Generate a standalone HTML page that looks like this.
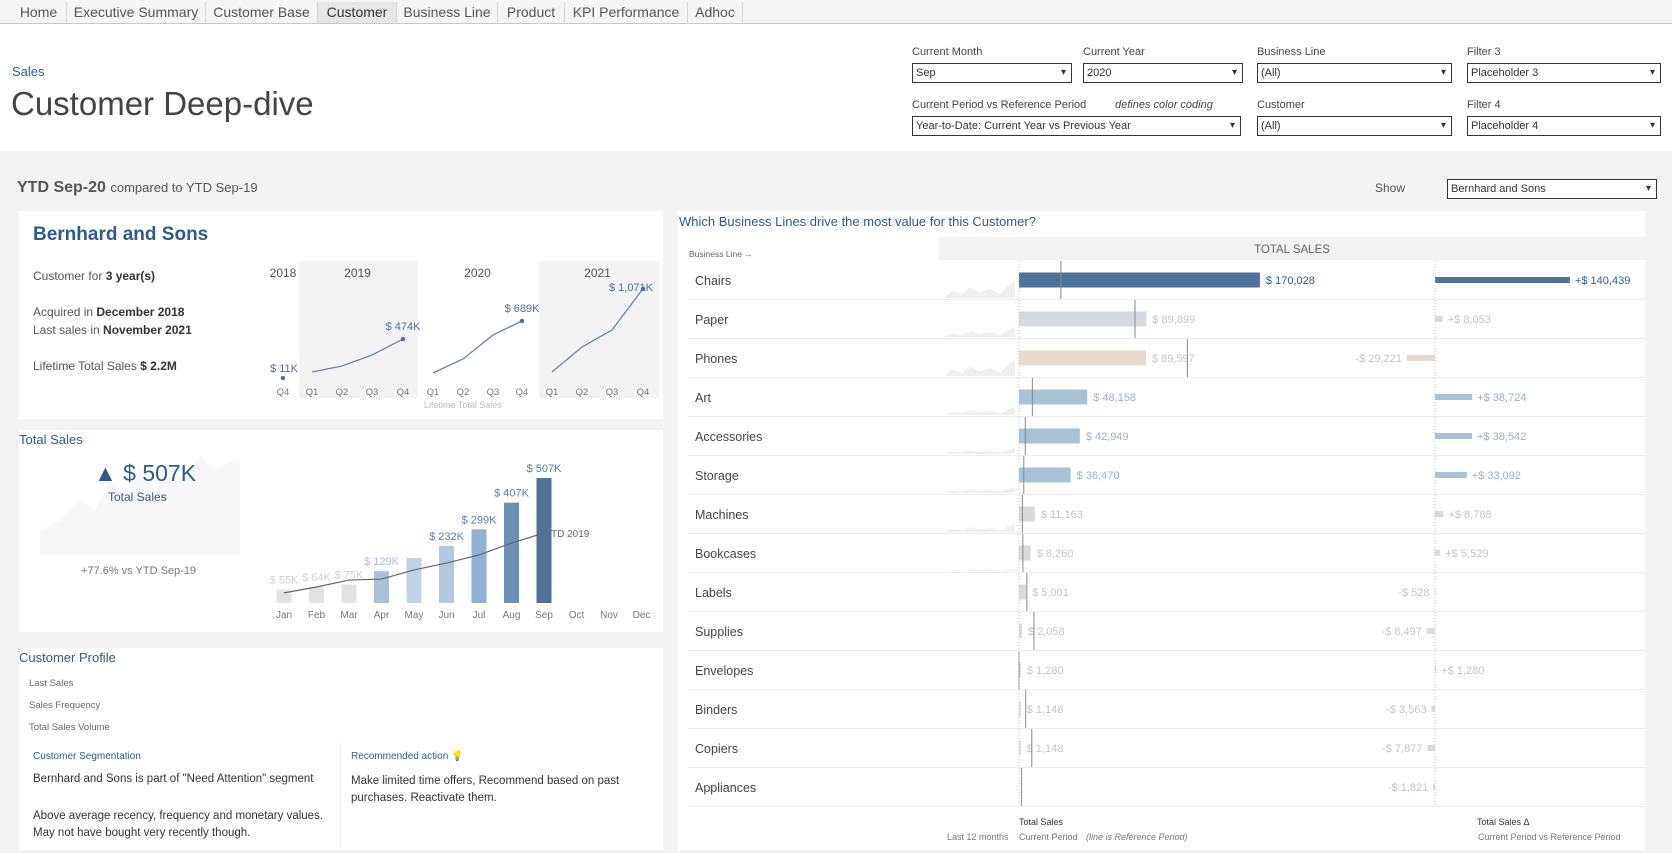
<!DOCTYPE html>
<html><head><meta charset="utf-8">
<style>
*{box-sizing:border-box;margin:0;padding:0}
body{width:1672px;height:853px;overflow:hidden;background:#f3f3f3;font-family:"Liberation Sans",sans-serif;position:relative;color:#555}
.abs{position:absolute;white-space:nowrap;z-index:2}
.tabs{position:absolute;left:0;top:0;width:1672px;height:24px;background:#f5f5f5;border-bottom:1px solid #c8c8c8}
.tab{position:absolute;top:2px;height:21px;font-size:14px;color:#555;text-align:center;line-height:21px;border-right:1px solid #d4d4d4}
.tab.active{background:#e6e6e6;color:#333}
.header{position:absolute;left:0;top:24px;width:1672px;height:127px;background:#fff}
.flabel{position:absolute;font-size:11px;color:#444}
.dd{position:absolute;height:20px;border:1px solid #333;background:#fff;font-size:11px;color:#333;line-height:18px;padding-left:3px}
.dd:after{content:"▾";position:absolute;right:5px;top:0;font-size:10px}
.panel{position:absolute;background:#fff}
.blue{color:#2e5b87}
#chart{z-index:1}
</style></head><body>
<div class="tabs">
<div class="tab" style="left:11px;width:56px">Home</div>
<div class="tab" style="left:67px;width:139px">Executive Summary</div>
<div class="tab" style="left:206px;width:112px">Customer Base</div>
<div class="tab active" style="left:318px;width:79px">Customer</div>
<div class="tab" style="left:397px;width:101px">Business Line</div>
<div class="tab" style="left:498px;width:67px">Product</div>
<div class="tab" style="left:565px;width:123px">KPI Performance</div>
<div class="tab" style="left:688px;width:55px">Adhoc</div>
</div>
<div class="header"></div>
<div class="abs blue" style="left:12px;top:64px;font-size:13px">Sales</div>
<div class="abs" style="left:11px;top:85px;font-size:33px;color:#444">Customer Deep-dive</div>

<div class="flabel" style="left:912px;top:46px">Current Month</div>
<div class="dd" style="left:912px;top:63px;width:160px">Sep</div>
<div class="flabel" style="left:1083px;top:46px">Current Year</div>
<div class="dd" style="left:1083px;top:63px;width:160px">2020</div>
<div class="flabel" style="left:1257px;top:46px">Business Line</div>
<div class="dd" style="left:1257px;top:63px;width:195px">(All)</div>
<div class="flabel" style="left:1467px;top:46px">Filter 3</div>
<div class="dd" style="left:1467px;top:63px;width:194px">Placeholder 3</div>
<div class="flabel" style="left:912px;top:99px">Current Period vs Reference Period</div>
<div class="flabel" style="left:1115px;top:99px;font-style:italic">defines color coding</div>
<div class="dd" style="left:912px;top:116px;width:329px">Year-to-Date: Current Year vs Previous Year</div>
<div class="flabel" style="left:1257px;top:99px">Customer</div>
<div class="dd" style="left:1257px;top:116px;width:195px">(All)</div>
<div class="flabel" style="left:1467px;top:99px">Filter 4</div>
<div class="dd" style="left:1467px;top:116px;width:194px">Placeholder 4</div>

<div class="abs" style="left:17px;top:179px;font-size:16px;color:#555"><b>YTD Sep-20</b> <span style="font-size:13px">compared to YTD Sep-19</span></div>
<div class="abs" style="left:1375px;top:181px;font-size:12px;color:#555">Show</div>
<div class="dd" style="left:1447px;top:179px;width:210px">Bernhard and Sons</div>

<div class="panel" style="left:19px;top:211px;width:644px;height:208px"></div>
<div class="panel" style="left:19px;top:430px;width:644px;height:202px"></div>
<div class="panel" style="left:19px;top:648px;width:644px;height:202px"></div>
<div class="panel" style="left:678px;top:211px;width:967px;height:639px"></div>

<div class="abs blue" style="left:33px;top:224px;font-size:19px;font-weight:bold">Bernhard and Sons</div>
<div class="abs" style="left:33px;top:269px;font-size:12px">Customer for <b style="color:#333">3 year(s)</b></div>
<div class="abs" style="left:33px;top:305px;font-size:12px">Acquired in <b style="color:#333">December 2018</b></div>
<div class="abs" style="left:33px;top:323px;font-size:12px">Last sales in <b style="color:#333">November 2021</b></div>
<div class="abs" style="left:33px;top:359px;font-size:12px">Lifetime Total Sales <b style="color:#333">$ 2.2M</b></div>

<div class="abs blue" style="left:19px;top:432px;font-size:13px">Total Sales</div>
<div class="abs blue" style="left:94px;top:460px;font-size:23px">▲ $ 507K</div>
<div class="abs blue" style="left:108px;top:490px;font-size:12px">Total Sales</div>
<div class="abs" style="left:81px;top:565px;font-size:11px;color:#777">+77.6% vs YTD Sep-19</div>

<div class="abs blue" style="left:19px;top:650px;font-size:13px">Customer Profile</div>
<div class="abs" style="left:29px;top:678px;font-size:9.5px;color:#666">Last Sales</div>
<div class="abs" style="left:29px;top:700px;font-size:9.5px;color:#666">Sales Frequency</div>
<div class="abs" style="left:29px;top:722px;font-size:9.5px;color:#666">Total Sales Volume</div>
<div class="abs" style="left:340px;top:743px;width:1px;height:105px;background:#eee"></div>
<div class="abs blue" style="left:33px;top:751px;font-size:10px">Customer Segmentation</div>
<div class="abs blue" style="left:351px;top:751px;font-size:10px">Recommended action <span style="color:#f0c040">💡</span></div>
<div class="abs" style="left:33px;top:773px;font-size:11.5px;color:#333">Bernhard and Sons is part of "Need Attention" segment</div>
<div class="abs" style="left:33px;top:808px;font-size:11.5px;color:#333;line-height:17px">Above average recency, frequency and monetary values.<br>May not have bought very recently though.</div>
<div class="abs" style="left:351px;top:773px;font-size:11.5px;color:#333;line-height:17px">Make limited time offers, Recommend based on past<br>purchases. Reactivate them.</div>

<div class="abs blue" style="left:679px;top:214px;font-size:13px">Which Business Lines drive the most value for this Customer?</div>

<svg id="chart" class="abs" style="left:0;top:0" width="1672" height="853" font-family="Liberation Sans, sans-serif"></svg>

<script>
// ---- Lifetime quarterly (cumulative YTD, $K) ----
const ltYears = ["2018","2019","2020","2021"];
const ltQuarters = [["Q4"],["Q1","Q2","Q3","Q4"],["Q1","Q2","Q3","Q4"],["Q1","Q2","Q3","Q4"]];
const ltValues = [[11],[83,154,285,474],[71,238,523,689],[83,380,582,1071]];
const ltLabels = ["$ 11K","$ 474K","$ 689K","$ 1,071K"];

// ---- Monthly total sales YTD ($K) ----
const months = ["Jan","Feb","Mar","Apr","May","Jun","Jul","Aug","Sep","Oct","Nov","Dec"];
const monthSales = [55,64,75,129,183,232,299,407,507];
const monthLabels = ["$ 55K","$ 64K","$ 75K","$ 129K","","$ 232K","$ 299K","$ 407K","$ 507K"];
const refSales = [41,65,93,97,134,162,195,243,284];

// ---- Business lines ----
const lines = ["Chairs","Paper","Phones","Art","Accessories","Storage","Machines","Bookcases","Labels","Supplies","Envelopes","Binders","Copiers","Appliances"];
const lineSales = [170028,89899,89597,48158,42949,36470,11163,8260,5001,2058,1280,1148,1148,0];
const lineDelta = [140439,8053,-29221,38724,38542,33092,8788,5529,-528,-8497,1280,-3563,-7877,-1821];

const svg=document.getElementById('chart');
const NS='http://www.w3.org/2000/svg';
function mk(tag,attrs,parent){const e=document.createElementNS(NS,tag);for(const k in attrs)e.setAttribute(k,attrs[k]);(parent||svg).appendChild(e);return e;}
function fmt(v){return v.toLocaleString('en-US');}

// Lifetime small multiples
const ltY=v=>379-0.0842*v;
const panelX=[[283],[312,342,372,403],[433,463,493,522],[552,582,612,643]];
const panelBg=[null,[299,418],null,[539,659]];
panelBg.forEach((b,i)=>{if(!b)return;
 const r=mk('rect',{x:b[0],y:261,width:b[1]-b[0],height:137,fill:'#f3f3f3'});
 
 });
ltYears.forEach((yr,i)=>{
 const xs=panelX[i];const cx=(xs[0]+xs[xs.length-1])/2;
 const t=mk('text',{x:cx,y:277,'font-size':12,fill:'#555','text-anchor':'middle'});t.textContent=yr;
 
 
 ltQuarters[i].forEach((q,j)=>{const qt=mk('text',{x:xs[j],y:395,'font-size':9.5,fill:'#777','text-anchor':'middle'});qt.textContent=q;
  
  });
 const vals=ltValues[i];
 if(vals.length>1){const p=mk('polyline',{points:vals.map((v,j)=>xs[j]+','+ltY(v)).join(' '),fill:'none',stroke:'#6a85a8','stroke-width':1.3});
  
  }
 const last=vals.length-1;
 const d=mk('circle',{cx:xs[last],cy:ltY(vals[last]),r:2.2,fill:'#4e6f96'});
 
 
 const lt=mk('text',{x:i===0?xs[last]+15:xs[last],y:ltY(vals[last])-(i===0?6:i===3?-2:9),'font-size':11,fill:'#4e6f96','text-anchor':i===0?'end':'middle'});
 if(i===3){lt.setAttribute('x',xs[last]-12);}
 lt.textContent=ltLabels[i];
 
 
});
const cap=mk('text',{x:463,y:408,'font-size':9,fill:'#bbb','text-anchor':'middle'});cap.textContent='Lifetime Total Sales';



// faint sparkline behind KPI
const sp=mk('path',{d:'M40 555 L40 530 L60 520 L80 500 L95 510 L110 480 L125 495 L140 470 L155 490 L170 465 L185 480 L200 455 L215 470 L230 462 L240 460 L240 555 Z',fill:'#f7f7f7'});



// Monthly bar chart
const mX=i=>284+i*32.5; const mY=v=>603-0.2465*v;
const barColors=['#e2e2e2','#e2e2e2','#e2e2e2','#a9c0d6','#c3d2e1','#b3c8dc','#8fb1d3','#6a90b8','#4f7299'];
months.forEach((m,i)=>{const t=mk('text',{x:mX(i),y:618,'font-size':10,fill:'#777','text-anchor':'middle'});t.textContent=m;
 
 });
monthSales.forEach((v,i)=>{
 const b=mk('rect',{x:mX(i)-7.5,y:mY(v),width:15,height:603-mY(v),fill:barColors[i]});
 
 
 if(monthLabels[i]){const t=mk('text',{x:mX(i),y:mY(v)-6,'font-size':11,fill:i<3?'#d0d0d0':(i<5?'#a9bcd0':'#5b7ea5'),'text-anchor':'middle'});t.textContent=monthLabels[i];
  
  }
});
const rl=mk('polyline',{points:refSales.map((v,i)=>mX(i)+','+mY(v)).join(' '),fill:'none',stroke:'#666','stroke-width':1.2});


const rt=mk('text',{x:mX(refSales.length-1)+7,y:mY(refSales[refSales.length-1])+4,'font-size':10,fill:'#666'});rt.textContent='TD 2019';



// Business line chart
const hdr=mk('rect',{x:939,y:237,width:706,height:23,fill:'#f2f2f2'});


const ht=mk('text',{x:1292,y:253,'font-size':11.5,fill:'#666','text-anchor':'middle'});ht.textContent='TOTAL SALES';


const bl=mk('text',{x:689,y:257,'font-size':8.5,fill:'#666'});bl.textContent='Business Line →';


const sX=v=>1019+0.001417*v; const dX=v=>1435+0.000961*v;
const rowY=i=>280+i*39;
const lineColors=['#4e7398','#d3d9de','#e6d9cf','#a9c1d6','#a9c1d6','#a9c1d6','#d9d9d9','#d9d9d9','#d9d9d9','#d9d9d9','#d9d9d9','#d9d9d9','#d9d9d9','#d9d9d9'];
const labelColors=['#2e5b87','#c4c4c4','#c4c4c4','#9cb1c6','#9cb1c6','#9cb1c6','#c4c4c4','#c4c4c4','#c4c4c4','#c4c4c4','#c4c4c4','#c4c4c4','#c4c4c4','#c4c4c4'];
lines.forEach((name,i)=>{
 const y=rowY(i);
 const sep=mk('line',{x1:688,x2:1645,y1:y+19.5,y2:y+19.5,stroke:'#ececec'});
 
 
 const t=mk('text',{x:695,y:y+5,'font-size':12.5,fill:'#444'});t.textContent=name;
 
 
 const v=lineSales[i];
 if(v>0){const b=mk('rect',{x:1019,y:y-7.5,width:sX(v)-1019,height:15,fill:lineColors[i]});
  
  
  const lt=mk('text',{x:sX(v)+6,y:y+4,'font-size':11,fill:labelColors[i]});lt.textContent='$ '+fmt(v);
  
  }
 const ref=v-lineDelta[i];
 const rl=mk('line',{x1:sX(ref),x2:sX(ref),y1:y-19,y2:y+19,stroke:'#888','stroke-width':1});
 
 
 const d=lineDelta[i];
 const x0=Math.min(dX(0),dX(d)),w=Math.abs(dX(d)-dX(0));
 const db=mk('rect',{x:x0,y:y-3,width:Math.max(w,1),height:6,fill:lineColors[i]});
 
 
 const dt=mk('text',{x:d>=0?dX(d)+5:dX(d)-5,y:y+4,'font-size':11,fill:labelColors[i],'text-anchor':d>=0?'start':'end'});
 dt.textContent=(d>=0?'+$ ':'-$ ')+fmt(Math.abs(d));
 
 
});
[1019,1435].forEach((x,k)=>{const l=mk('line',{x1:x,x2:x,y1:261,y2:805,stroke:'#bbb','stroke-dasharray':'1,2'});
 
 });
// faint sparklines per row
lines.forEach((n,i)=>{if(i>7)return;const y=rowY(i)+18;
 const h=[18,10,16,8,6,6,8,2][i];
 const p=mk('path',{d:`M944 ${y} L952 ${y-h*0.4} L962 ${y-h*0.2} L970 ${y-h*0.6} L980 ${y-h*0.3} L990 ${y-h*0.5} L1000 ${y-h*0.2} L1008 ${y-h*0.7} L1015 ${y-h} L1015 ${y} Z`,fill:'#efefef'});
 
 });
const foot=[[1019,825,'Total Sales','#333'],[1019,840,'Current Period','#777'],[947,840,'Last 12 months','#777'],[1477,825,'Total Sales Δ','#333'],[1478,840,'Current Period  vs Reference Period','#777']];
foot.forEach(f=>{const t=mk('text',{x:f[0],y:f[1],'font-size':9,fill:f[3]});t.textContent=f[2];
 
 });
const it=mk('text',{x:1086,y:840,'font-size':9,fill:'#777','font-style':'italic'});it.textContent='(line is Reference Period)';


</script>
</body></html>
